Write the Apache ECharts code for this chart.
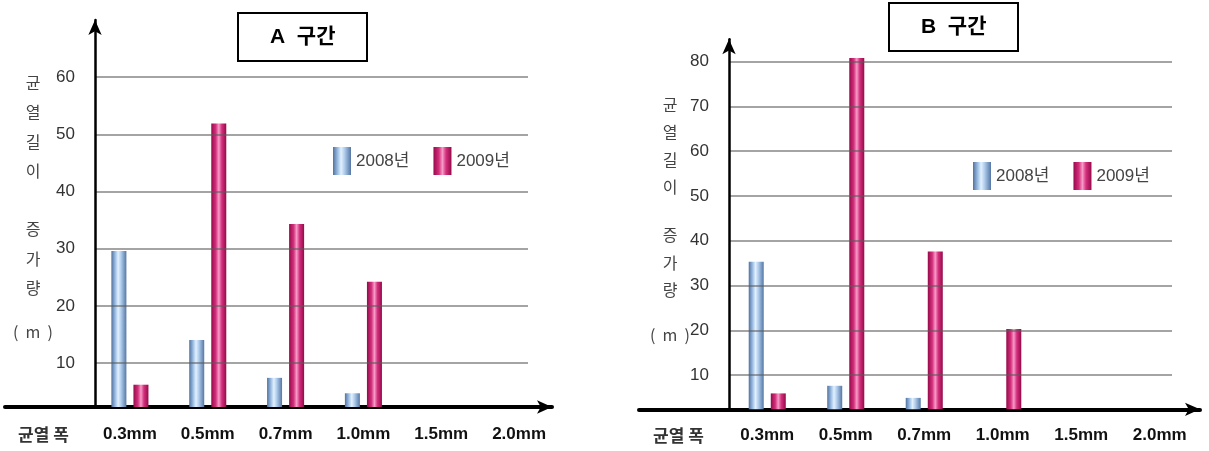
<!DOCTYPE html>
<html>
<head>
<meta charset="utf-8">
<script src="https://cdn.jsdelivr.net/npm/echarts@6/dist/echarts.min.js"></script>
<style>
html,body{margin:0;padding:0;background:#fff;}
#chart{width:1209px;height:451px;}
</style>
</head>
<body>
<div id="chart"></div>
<script>
// ---- data ----
var categories = ['0.3mm', '0.5mm', '0.7mm', '1.0mm', '1.5mm', '2.0mm'];
var seriesNames = ['2008년', '2009년'];
var a2008 = [29.6, 14.0, 7.4, 4.7, null, null];
var a2009 = [6.2, 51.9, 34.3, 24.2, null, null];
var b2008 = [35.3, 7.6, 4.9, 0, null, null];
var b2009 = [5.9, 80.8, 37.6, 20.3, null, null];
var aTicks = [10, 20, 30, 40, 50, 60];
var bTicks = [10, 20, 30, 40, 50, 60, 70, 80];
var panelTitles = ['A  구간', 'B  구간'];
var yNameText = '{c|균}\n{c|열}\n{c|길}\n{c|이}\n{g| }\n{c|증}\n{c|가}\n{c|량}\n{h| }\n{c|(  m  )}';
var xNameText = '균열 폭';

// ---- styles ----
var sans = "'Liberation Sans', 'Noto Sans CJK KR', sans-serif";
var kr = "'Noto Sans CJK KR', sans-serif";
var blueGrad = new echarts.graphic.LinearGradient(0, 0, 1, 0, [
  {offset: 0, color: '#4f72a0'}, {offset: 0.3, color: '#a9c9ec'},
  {offset: 0.45, color: '#e3f0fc'}, {offset: 0.62, color: '#b5d1ef'},
  {offset: 1, color: '#5577a5'}]);
var pinkGrad = new echarts.graphic.LinearGradient(0, 0, 1, 0, [
  {offset: 0, color: '#950a4a'}, {offset: 0.3, color: '#d42f7c'},
  {offset: 0.5, color: '#f79bc8'}, {offset: 0.7, color: '#d42f7c'},
  {offset: 1, color: '#950a4a'}]);

function panel(p) {
  var base = p.idx * 3;
  var grids = [
    {left: p.frameLeft, top: p.top, width: p.frameWidth, height: p.height},
    {left: p.axisLeft, top: p.top, width: p.lineWidth, height: p.height},
    {left: p.barLeft, top: p.top, width: p.barWidth, height: p.height}
  ];
  var xAxes = [
    {gridIndex: base, type: 'value', min: 0, max: 1, position: 'bottom',
     axisLine: {show: true, onZero: false, symbol: ['none', 'arrow'], symbolSize: [10, 15],
       lineStyle: {color: '#000', width: 4}},
     axisTick: {show: false}, axisLabel: {show: false}, splitLine: {show: false}},
    {gridIndex: base + 1, type: 'value', min: 0, max: 1, show: false},
    {gridIndex: base + 2, type: 'category', data: categories, position: 'bottom',
     axisLine: {show: false, onZero: false}, axisTick: {show: false},
     axisLabel: {interval: 0, margin: p.labelMargin, fontFamily: sans, fontWeight: 'bold', fontSize: 17, color: '#111'},
     splitLine: {show: false}}
  ];
  var yAxes = [
    {gridIndex: base, type: 'value', min: 0, max: 1, show: false},
    {gridIndex: base + 1, type: 'value', min: p.ymin, max: p.ymax, z: 5,
     axisLine: {show: true, symbol: ['none', 'arrow'], symbolSize: [10, 15],
       lineStyle: {color: '#000', width: 2.5}},
     axisTick: {show: false, customValues: p.ticks},
     axisLabel: {customValues: p.ticks, margin: 20, fontFamily: sans, fontSize: 17, color: '#333'},
     splitLine: {show: true, lineStyle: {color: 'rgba(90,90,90,0.55)', width: 2}}},
    {gridIndex: base + 2, type: 'value', min: p.ymin, max: p.ymax, show: false}
  ];
  var series = [
    {name: seriesNames[0], type: 'bar', xAxisIndex: base + 2, yAxisIndex: base + 2,
     data: p.d1, barWidth: 15, barGap: '47%', clip: true, itemStyle: {color: blueGrad}},
    {name: seriesNames[1], type: 'bar', xAxisIndex: base + 2, yAxisIndex: base + 2,
     data: p.d2, barWidth: 15, barGap: '47%', clip: true, itemStyle: {color: pinkGrad}}
  ];
  var titles = [
    {text: panelTitles[p.idx], left: p.boxLeft, top: p.boxTop, padding: [12, 32],
     borderWidth: 2, borderColor: '#000',
     textStyle: {fontSize: 21, fontWeight: 'bold', lineHeight: 24, color: '#000', fontFamily: sans}},
    {text: yNameText, left: p.nameX, top: p.nameTop, textAlign: 'center', padding: 0,
     textStyle: {fontSize: 16, fontWeight: 'normal', lineHeight: p.nameLH, color: '#444', fontFamily: kr,
       rich: {
         c: {fontSize: 16, fontWeight: 'normal', lineHeight: p.nameLH, color: '#444', fontFamily: kr},
         g: {fontSize: 16, fontWeight: 'normal', lineHeight: p.gap1},
         h: {fontSize: 16, fontWeight: 'normal', lineHeight: p.gap2}}}},
    {text: xNameText, left: p.xNameLeft, top: p.xNameTop, padding: 0,
     textStyle: {fontSize: 17, fontWeight: 'bold', color: '#333', fontFamily: kr}}
  ];
  var legend = {
    left: p.legLeft, top: p.legTop, itemWidth: 18, itemHeight: 28, itemGap: 24, icon: 'rect',
    padding: 0, data: seriesNames,
    textStyle: {fontFamily: sans, fontSize: 17, color: '#444'}
  };
  return {grids: grids, xAxes: xAxes, yAxes: yAxes, series: series, titles: titles, legend: legend};
}

var pA = panel({idx: 0, frameLeft: 5, frameWidth: 547, axisLeft: 95, lineWidth: 433,
  barLeft: 91, barWidth: 467, top: 20, height: 387, ymin: 2.3, ymax: 70, ticks: aTicks,
  labelMargin: 19, d1: a2008, d2: a2009, boxLeft: 238, boxTop: 13,
  nameX: 33, nameTop: 68, nameLH: 29.5, gap1: 28.5, gap2: 14.5,
  xNameLeft: 18, xNameTop: 426, legLeft: 333, legTop: 147});
var pB = panel({idx: 1, frameLeft: 639, frameWidth: 561, axisLeft: 729, lineWidth: 443,
  barLeft: 728, barWidth: 471, top: 39.3, height: 370, ymin: 2.35, ymax: 85, ticks: bTicks,
  labelMargin: 18, d1: b2008, d2: b2009, boxLeft: 889, boxTop: 3,
  nameX: 670, nameTop: 91, nameLH: 27.5, gap1: 20.5, gap2: 17.5,
  xNameLeft: 653, xNameTop: 427, legLeft: 973, legTop: 162});

var option = {
  animation: false,
  backgroundColor: '#fff',
  title: pA.titles.concat(pB.titles),
  legend: [pA.legend, pB.legend],
  grid: pA.grids.concat(pB.grids),
  xAxis: pA.xAxes.concat(pB.xAxes),
  yAxis: pA.yAxes.concat(pB.yAxes),
  series: pA.series.concat(pB.series)
};
var chart = echarts.init(document.getElementById('chart'), null, {renderer: 'canvas'});
chart.setOption(option);
</script>
</body>
</html>
